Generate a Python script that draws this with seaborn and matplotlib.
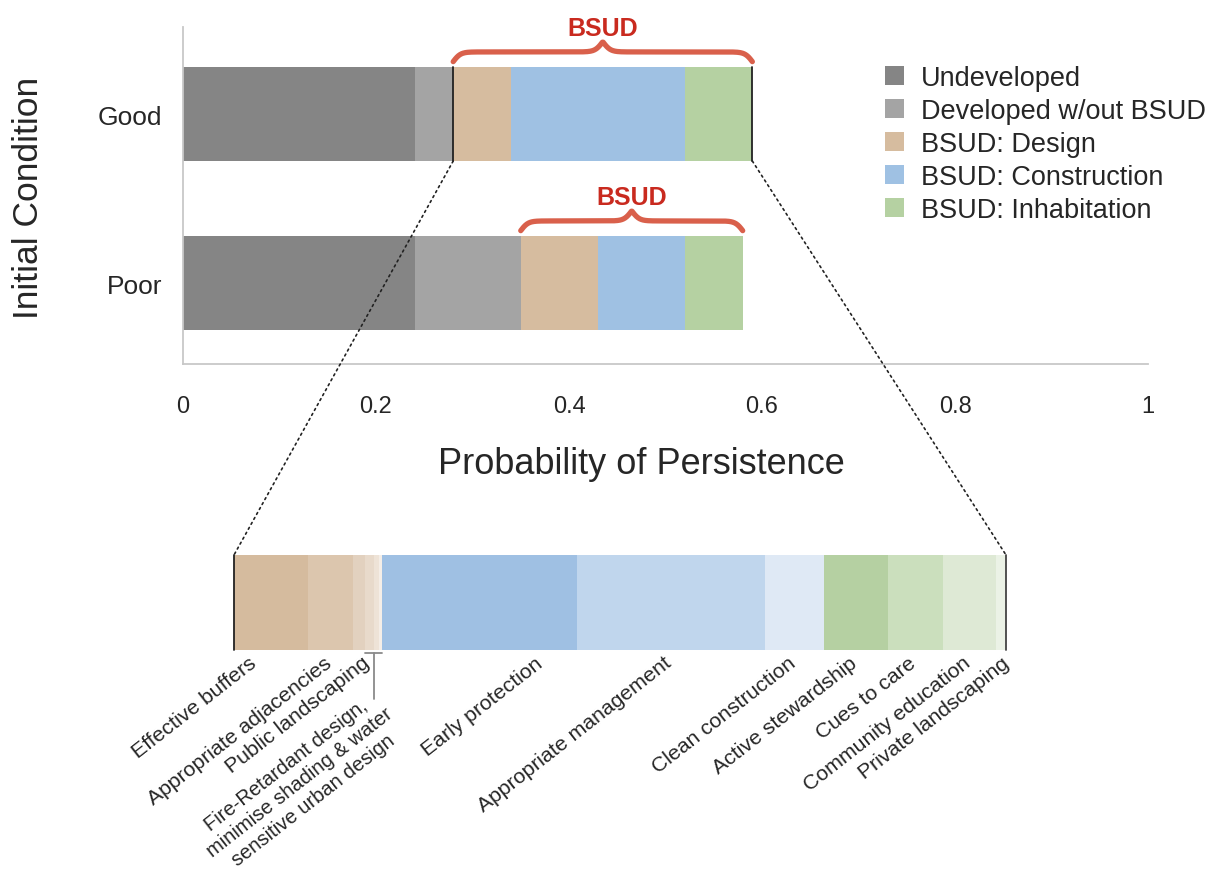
import numpy as np
import pandas as pd
import matplotlib
matplotlib.use("Agg")
import matplotlib.pyplot as plt
import matplotlib.transforms as mtransforms
from matplotlib.patches import Patch, ConnectionPatch
import seaborn as sns

# ---- data -------------------------------------------------------------
conditions = ["Good", "Poor"]
stages = ["Undeveloped", "Developed w/out BSUD", "BSUD: Design",
          "BSUD: Construction", "BSUD: Inhabitation"]
undeveloped = [0.24, 0.24]
developed = [0.04, 0.11]
design = [0.06, 0.08]
construction = [0.18, 0.09]
inhabitation = [0.07, 0.06]
stage_colors = ["#858585", "#a4a4a4", "#d6bc9f", "#9fc1e3", "#b5d1a2"]

# break-down of the BSUD part of the "Good" bar
design_items = ["Effective buffers", "Appropriate adjacencies", "Public landscaping",
                "Fire-retardant design", "Minimise shading", "Water sensitive urban design"]
design_vals = [0.0297, 0.0181, 0.0048, 0.0036, 0.0020, 0.0012]
design_cols = ["#d5bb9e", "#dcc6ae", "#e2d1bf", "#e8dacb", "#eee3d7", "#f5eee7"]
construction_items = ["Early protection", "Appropriate management", "Clean construction"]
construction_vals = [0.0779, 0.0755, 0.0237]
construction_cols = ["#9fc0e3", "#c0d6ed", "#dfe9f5"]
inhabitation_items = ["Active stewardship", "Cues to care", "Community education",
                      "Private landscaping"]
inhabitation_vals = [0.0253, 0.0221, 0.0213, 0.0040]
inhabitation_cols = ["#b5d0a2", "#cbdfbd", "#dee9d5", "#ebf2e6"]
grouped_lines = ["Fire-Retardant design,", "minimise shading & water",
                 "sensitive urban design"]
grouped_items = design_items[3:]

# ---- style ------------------------------------------------------------
sns.set_style("white")
plt.rcParams["font.family"] = ["Liberation Sans", "DejaVu Sans"]
txt = "#262626"

fig = plt.figure(figsize=(12.08, 8.7), dpi=100)
W, H = 1208, 870
ax = fig.add_axes([183 / W, 1 - 365 / H, 965 / W, 337 / H])

df = pd.DataFrame({"condition": conditions, stages[0]: undeveloped, stages[1]: developed,
                   stages[2]: design, stages[3]: construction, stages[4]: inhabitation})
cum = df[stages].cumsum(axis=1)
cum["condition"] = df["condition"]

bar_w = 0.556
for stage, color in reversed(list(zip(stages, stage_colors))):
    sns.barplot(data=cum, x=stage, y="condition", orient="h", color=color,
                width=bar_w, saturation=1, errorbar=None, linewidth=0, ax=ax)

ax.set(xlabel="", ylabel="")
ax.set_xlim(0, 1)
ax.set_ylim(1.479, -0.515)
ax.set_xticks([0, 0.2, 0.4, 0.6, 0.8, 1])
ax.set_xticklabels(["0", "0.2", "0.4", "0.6", "0.8", "1"])
ax.tick_params(axis="x", direction="in", length=6, color="#c8c8c8", labelsize=17,
               labelcolor=txt, pad=22)
ax.tick_params(axis="y", length=0, labelsize=19, labelcolor=txt, pad=15)
for s in ["top", "right"]:
    ax.spines[s].set_visible(False)
for s in ["left", "bottom"]:
    ax.spines[s].set_color("#c8c8c8")
    ax.spines[s].set_linewidth(1.3)

fig.text(29 / W, 1 - 198 / H, "Initial Condition", rotation=90, ha="center",
         va="center", fontsize=25.5, color=txt)
fig.text(641 / W, 1 - 465 / H, "Probability of Persistence", ha="center",
         va="center", fontsize=26, color=txt)

# ---- braces -----------------------------------------------------------
def draw_brace(ax, x0, x1, y_end, height, beta=260):
    n = 400
    xs = np.linspace(x0, x1, n)
    half = xs[: n // 2]
    yh = (1 / (1 + np.exp(-beta * (half - half[0])))
          + 1 / (1 + np.exp(-beta * (half - half[-1]))))
    ys = np.concatenate([yh, yh[::-1]]) - 0.5
    ax.plot(xs, y_end - ys * height, color="#d9604b", lw=3.8,
            solid_capstyle="round", clip_on=False, zorder=4)
    ax.text((x0 + x1) / 2, y_end - height - 0.085, "BSUD", ha="center", va="center",
            fontsize=18, fontweight="bold", color="#c92a1f", clip_on=False)

bsud_start = cum[stages[1]].values
bsud_end = cum[stages[4]].values
for i in range(len(conditions)):
    draw_brace(ax, bsud_start[i], bsud_end[i], i - 0.31, 0.115)

# edge lines of the zoomed region
for xv in (bsud_start[0], bsud_end[0]):
    ax.plot([xv, xv], [-bar_w / 2, bar_w / 2], color="#222222", lw=1.3, zorder=4)

# ---- legend -----------------------------------------------------------
handles = [Patch(facecolor=c, edgecolor="none") for c in stage_colors]
fig.legend(handles, stages, loc="upper left", bbox_to_anchor=(885 / W, 1 - 66 / H),
           frameon=False, fontsize=19.5, handlelength=0.7, handleheight=0.7,
           handletextpad=0.62, labelspacing=0.26, borderpad=0, borderaxespad=0,
           labelcolor=txt)

# ---- detail bar -------------------------------------------------------
ax2 = fig.add_axes([234 / W, 1 - 651 / H, 772 / W, 95 / H])
items = design_items + construction_items + inhabitation_items
vals = design_vals + construction_vals + inhabitation_vals
cols = design_cols + construction_cols + inhabitation_cols
det = pd.DataFrame({"item": items, "value": vals, "color": cols})
det["right"] = det["value"].cumsum()
det["left"] = det["right"] - det["value"]
det["row"] = "BSUD"
for _, r in det.iloc[::-1].iterrows():
    sns.barplot(x=[r["right"]], y=[r["row"]], orient="h", color=r["color"], width=1,
                saturation=1, errorbar=None, linewidth=0, ax=ax2)
total = det["right"].iloc[-1]
ax2.set_xlim(0, total)
ax2.set_ylim(0.5, -0.5)
ax2.axis("off")
ax2.plot([0, 0], [-0.5, 0.5], color="#222222", lw=1.3, clip_on=False)
ax2.plot([total, total], [-0.5, 0.5], color="#444444", lw=1.3, clip_on=False)

trans = mtransforms.blended_transform_factory(ax2.transData, ax2.transAxes)
shift = -0.003
nudge = {"Early protection": 0.025, "Effective buffers": -0.006,
         "Public landscaping": 0.004, "Private landscaping": 0.003}
for _, r in det.iterrows():
    if r["item"] in grouped_items:
        continue
    xc = (r["left"] + r["right"]) / 2 + shift + nudge.get(r["item"], 0)
    ax2.text(xc, -0.03, r["item"], transform=trans, rotation=38, rotation_mode="anchor",
             ha="right", va="top", fontsize=15.3, color=txt, clip_on=False)

# small segments share one bracketed label
g = det[det["item"].isin(grouped_items)]
g0, g1 = g["left"].min(), g["right"].max()
gc = (g0 + g1) / 2
ax2.plot([g0, g1], [-0.03, -0.03], color="#8a8a8a", lw=1.3, transform=trans, clip_on=False)
ax2.plot([gc, gc], [-0.03, -0.52], color="#8a8a8a", lw=1.3, transform=trans, clip_on=False)
ang = np.deg2rad(38)
step = 16.0  # points between lines
for k, line in enumerate(grouped_lines):
    ox = -63 + k * step * np.sin(ang)
    oy = -47 - k * step * np.cos(ang)
    ax2.annotate(line, xy=(gc, -0.52), xycoords=trans, xytext=(ox, oy),
                 textcoords="offset points", rotation=38, rotation_mode="anchor",
                 ha="center", va="center", fontsize=14.5, color=txt,
                 annotation_clip=False)

# ---- dotted connectors --------------------------------------------------
for xa, xb in ((bsud_start[0], 0), (bsud_end[0], 1)):
    con = ConnectionPatch(xyA=(xa, bar_w / 2), coordsA=ax.transData,
                          xyB=(xb, 1), coordsB=ax2.transAxes,
                          linestyle=(0, (1.2, 2.2)), color="#222222", lw=1.2, zorder=6)
    fig.add_artist(con)

fig.savefig("out.png", dpi=100)
